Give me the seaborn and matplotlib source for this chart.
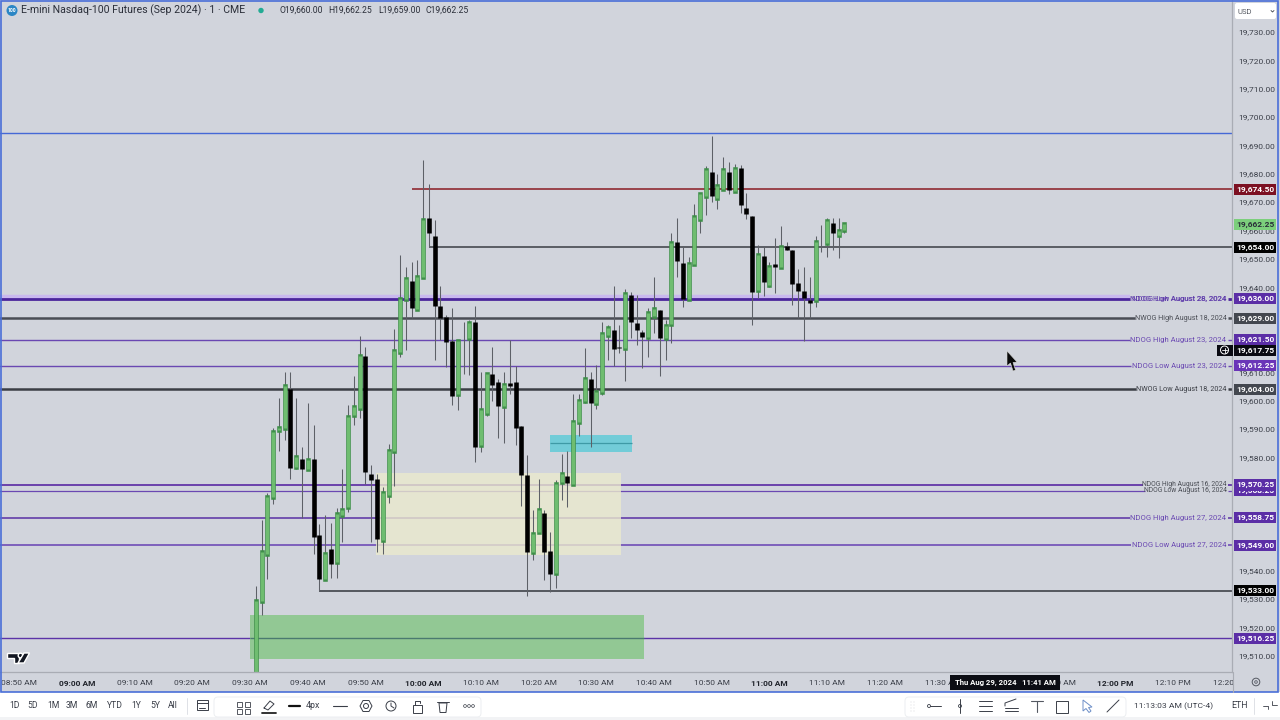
# E-mini Nasdaq 1 minute chart, candles + session levels
import numpy as np
import pandas as pd
import seaborn as sns
import matplotlib.pyplot as plt
from matplotlib.patches import Rectangle, Circle, Polygon, FancyBboxPatch

# candles, minutes after 09:00
minutes = list(range(31, 134))
opens = [19500, 19529.25, 19546, 19566, 19589.5, 19590.5, 19604.25, 19576.5, 19579.25, 19576,
         19579.5, 19552.5, 19537.25, 19547.5, 19543.25, 19559.75, 19562.5, 19594.75, 19597.25, 19615.75,
         19574.25, 19572.25, 19551, 19566.75, 19582.25, 19617, 19635.75, 19642.25, 19632.25, 19643.75,
         19664.5, 19658, 19633.5, 19629.5, 19621, 19602.25, 19620.5, 19622.25, 19627.75, 19584.25,
         19595.75, 19609.5, 19606.5, 19598.25, 19606.25, 19606.5, 19591, 19573.75, 19546.75, 19553.5,
         19560.5, 19547, 19539.25, 19571.25, 19573.5, 19570.75, 19592.5, 19600, 19607.5, 19599.25,
         19603, 19623.25, 19625, 19618.75, 19618.5, 19637.25, 19627.5, 19624.25, 19622.5, 19630,
         19632, 19622, 19627, 19655.75, 19648.5, 19635.75, 19648.25, 19664, 19672.25, 19680.5,
         19671.5, 19674.75, 19680.5, 19674, 19682, 19668, 19665, 19639, 19651, 19640.75,
         19648.25, 19647, 19654.5, 19653, 19641.5, 19638.5, 19635.5, 19635.5, 19655.75, 19655.5,
         19662.5, 19658.5, 19660]
highs = [19534.5, 19558, 19567.5, 19590.5, 19600.75, 19610, 19610, 19600.75, 19583.5, 19599,
         19591.5, 19556.5, 19559.5, 19556.75, 19562, 19575.75, 19598.5, 19608.5, 19622.75, 19618.75,
         19577.25, 19574, 19569.5, 19584.75, 19625.25, 19651.25, 19647, 19648.75, 19649.75, 19684.75,
         19676.5, 19663.75, 19640.25, 19630.25, 19632.5, 19621.5, 19627.75, 19628.25, 19633.25, 19610.25,
         19609.25, 19619, 19607.75, 19610, 19621.5, 19612.25, 19591, 19580.75, 19561.5, 19572.25,
         19561.5, 19553.75, 19572, 19581.25, 19582.25, 19602.5, 19602.5, 19618.5, 19610.25, 19612.5,
         19627.75, 19626.5, 19640.5, 19626.5, 19639.25, 19638.25, 19637.25, 19625, 19632.5, 19643.75,
         19632, 19628.5, 19659, 19664.5, 19654.25, 19650.75, 19669.25, 19672.75, 19682.75, 19693.25,
         19680, 19686, 19684, 19683.5, 19683.25, 19673.25, 19665, 19655, 19654, 19649,
         19657.25, 19661.5, 19656, 19653, 19646.5, 19647, 19643.75, 19658, 19662, 19664.25,
         19664.25, 19664.25, 19662.25]
lows = [19498, 19524.5, 19537.25, 19563.5, 19582.25, 19586, 19572.5, 19576, 19558.5, 19575.5,
        19546, 19533, 19536.75, 19537.5, 19537.5, 19550, 19560.75, 19591.5, 19593.75, 19570.5,
        19550.25, 19546.5, 19545.75, 19563.75, 19570, 19615.5, 19617.75, 19629, 19632.25, 19643.5,
        19654, 19614.25, 19621.5, 19612, 19598.5, 19596.75, 19609.5, 19609, 19578.5, 19582,
        19594.5, 19600, 19586.75, 19585, 19602.5, 19584.25, 19562.75, 19531, 19543.75, 19553.25,
        19536.75, 19532.5, 19534, 19565, 19562.5, 19570.5, 19587.5, 19599, 19583.75, 19597,
        19602, 19614.25, 19612.25, 19616.75, 19607, 19622, 19619.75, 19611.5, 19615.5, 19623.75,
        19608.75, 19614.25, 19620.25, 19643.75, 19633, 19635.75, 19647.75, 19659, 19665.5, 19670,
        19667.5, 19674.5, 19673, 19673.75, 19666, 19664, 19626.5, 19636.25, 19637, 19640,
        19638, 19647, 19653, 19633.75, 19629, 19621, 19629, 19633, 19652.25, 19650.75,
        19653, 19650.25, 19659]
closes = [19529.5, 19546.5, 19566, 19589, 19590.5, 19605, 19576.25, 19580, 19576, 19579,
          19551.75, 19537, 19545.75, 19542.5, 19560, 19561.5, 19594.25, 19597.75, 19615.75, 19574.75,
          19572, 19551.25, 19567.25, 19582.25, 19617.5, 19636, 19643, 19632.75, 19643.5, 19663.75,
          19659.25, 19633.5, 19629, 19620.5, 19601.5, 19621, 19620.75, 19627.25, 19583.75, 19596.75,
          19609.25, 19605.5, 19598, 19605.5, 19605, 19590.25, 19573.75, 19546.75, 19553, 19561.5,
          19546.75, 19538.75, 19570.75, 19574, 19571, 19592.5, 19599.75, 19607.75, 19599, 19603,
          19623.5, 19625.5, 19618.25, 19618.5, 19637.5, 19627.75, 19625, 19622.5, 19631, 19632.25,
          19622.25, 19626.25, 19655.5, 19649.25, 19636, 19648, 19664.75, 19672.75, 19681.25, 19672.25,
          19675.5, 19681.25, 19674.25, 19681.5, 19669, 19665.75, 19638.25, 19651.25, 19641.75, 19647.25,
          19647, 19654, 19653.25, 19641.25, 19638.75, 19636.25, 19634.5, 19656, 19656, 19663.25,
          19659, 19659.75, 19662.25]

# horizontal levels
level_prices = [19694.5, 19636, 19629, 19621.5, 19612.25, 19604, 19570.25, 19568.25, 19558.75, 19549, 19516.25]
level_ends = [None, 182.5, 183.4, 182.5, 182.6, 183.5, 184.8, 185.1, 182.5, 182.6, None]
level_colors = ['#4568d6', '#4b259c', '#4a4d55', '#6a48b2', '#6a48b2', '#3b3e45',
                '#4f1a9e', '#6a48b2', '#5a30a5', '#7d60bc', '#5c34a8']
level_widths = [1.0, 2.0, 1.8, 1.0, 1.0, 1.8, 1.1, 0.9, 1.1, 1.4, 1.0]
level_labels = [None, 'NDOG High August 28, 2024', 'NWOG High August 18, 2024', 'NDOG High August 23, 2024',
                'NDOG Low August 23, 2024', 'NWOG Low August 18, 2024', 'NDOG High August 16, 2024',
                'NDOG Low August 16, 2024', 'NDOG High August 27, 2024', 'NDOG Low August 27, 2024', None]
label_colors = [None, '#5f3cab', '#4a4d55', '#6a48b2', '#6a48b2', '#3b3e45', '#4a4d55', '#4a4d55',
                '#6a48b2', '#6a48b2', None]
label_sizes = [0, 5.5, 5.2, 5.5, 5.5, 5.2, 4.85, 4.85, 5.5, 5.5, 0]

# anchored lines, they start at a candle and run to the right edge
anchor_prices = [19674.5, 19654, 19533]
anchor_starts = [58, 61, 42]
anchor_colors = ['#8a1c24', '#3a3d44', '#33363c']

# zones
zone_starts = [51.9, 81.9, 29.9]
zone_ends = [94.2, 96.2, 98.2]
zone_tops = [19574.5, 19587.9, 19524.4]
zone_bottoms = [19545.6, 19581.9, 19508.9]
zone_colors = ['#ebeacd', '#5acbd7', '#83c582']
zone_mids = [None, 19584.9, 19516.25]
zone_mid_colors = [None, '#3e9aa6', '#4a7a70']

# price boxes on the axis
box_prices = [19674.5, 19662.25, 19654, 19636, 19629, 19621.5, 19617.75, 19612.25, 19604,
              19568.25, 19570.25, 19558.75, 19549, 19533, 19516.25]
box_colors = ['#7c1022', '#7ccf7c', '#000000', '#5b2ea6', '#43474f', '#5b2ea6', '#0a0a12', '#6a35b8', '#43474f',
              '#5b2ea6', '#5b2ea6', '#5b2ea6', '#5b2ea6', '#000000', '#5b2ea6']
box_text = ['white', '#2a2e39', 'white', 'white', 'white', 'white', 'white', 'white', 'white',
            'white', 'white', 'white', 'white', 'white', 'white']

# axis ticks
price_ticks = list(range(19510, 19740, 10))
time_ticks = list(range(-10, 210, 10))
time_labels = ['08:50 AM', '09:00 AM', '09:10 AM', '09:20 AM', '09:30 AM', '09:40 AM', '09:50 AM', '10:00 AM',
               '10:10 AM', '10:20 AM', '10:30 AM', '10:40 AM', '10:50 AM', '11:00 AM', '11:10 AM', '11:20 AM',
               '11:30 AM', '11:40 AM', '11:50 AM', '12:00 PM', '12:10 PM', '12:20 PM']
bold_times = ['09:00 AM', '10:00 AM', '11:00 AM', '12:00 PM']

BG = '#d1d4dc'
TXT = '#3a3e48'

sns.set_theme(style='white')
plt.rcParams['font.family'] = ['Roboto', 'DejaVu Sans']

df = pd.DataFrame({'minute': minutes, 'open': opens, 'high': highs, 'low': lows, 'close': closes})
df['up'] = df['close'] >= df['open']
wicks = df.melt(id_vars=['minute', 'up'], value_vars=['low', 'high'], value_name='price')
bodies = df.melt(id_vars=['minute', 'up'], value_vars=['open', 'close'], value_name='price')

fig = plt.figure(figsize=(12.8, 7.2), dpi=100, facecolor=BG)
ax = fig.add_axes([0, 48 / 720, 1232 / 1280, 672 / 720], facecolor=BG)

# levels first, zones lie over them and candles over the zones
x_right = 200.17
for price, end, col, lw, text, tcol, tsize in zip(level_prices, level_ends, level_colors, level_widths,
                                                  level_labels, label_colors, label_sizes):
    if end is None:
        ax.hlines(price, -14, x_right, color=col, linewidth=lw, zorder=1)
    else:
        if lw == 2.0:
            ax.hlines(price + 0.5, -14, end, color='#c9b8ee', linewidth=3.2, zorder=0.9)
        ax.hlines(price, -14, end, color=col, linewidth=lw, zorder=1)
        ax.hlines(price, 199.5, x_right, color=col, linewidth=lw, zorder=1)
        ax.text(199.2, price, text, color=tcol, fontsize=tsize, ha='right', va='center', zorder=3)
# two labels were printed over each other on this level
ax.text(199.2, 19636, 'NDOG Low August 28, 2024', color='#5f3cab', fontsize=5.5, ha='right', va='center', zorder=3)

for start, end, top, bottom, col, mid, mcol in zip(zone_starts, zone_ends, zone_tops, zone_bottoms,
                                                   zone_colors, zone_mids, zone_mid_colors):
    ax.add_patch(Rectangle((start, bottom), end - start, top - bottom, facecolor=col, edgecolor='none',
                           alpha=0.8, zorder=1.2))
    if mid is not None:
        ax.hlines(mid, start, end, color=mcol, linewidth=0.9, zorder=1.3)

for price, start, col in zip(anchor_prices, anchor_starts, anchor_colors):
    ax.hlines(price, start, x_right, color=col, linewidth=1.1, zorder=1.4)

sns.lineplot(data=wicks, x='minute', y='price', units='minute', estimator=None, color='#5d6067',
             linewidth=0.75, solid_capstyle='butt', legend=False, ax=ax, zorder=2)
up_bodies = bodies[bodies['up']]
down_bodies = bodies[~bodies['up']]
sns.lineplot(data=up_bodies, x='minute', y='price', units='minute', estimator=None, color='#3f8f4a',
             linewidth=3.3, solid_capstyle='projecting', legend=False, ax=ax, zorder=2.1)
sns.lineplot(data=up_bodies, x='minute', y='price', units='minute', estimator=None, color='#6fbd70',
             linewidth=2.3, solid_capstyle='butt', legend=False, ax=ax, zorder=2.2)
sns.lineplot(data=down_bodies, x='minute', y='price', units='minute', estimator=None, color='#000000',
             linewidth=3.3, solid_capstyle='butt', legend=False, ax=ax, zorder=2.2)

ax.set_xlim(-13.34, x_right)
ax.set_ylim(19504.3, 19741.26)
ax.set_xlabel('')
ax.set_ylabel('')
ax.set_xticks(time_ticks)
ax.set_xticklabels(time_labels, fontsize=6, color=TXT)
for tick in ax.get_xticklabels():
    if tick.get_text() in bold_times:
        tick.set_fontweight('bold')
        tick.set_color('#1f222a')
ax.yaxis.tick_right()
ax.set_yticks(price_ticks)
ax.set_yticklabels([f'{p:,.2f}' for p in price_ticks], fontsize=6, color=TXT)
ax.tick_params(axis='x', length=0, pad=5.5)
ax.tick_params(axis='y', length=0, pad=4.2)
for side in ['top', 'left']:
    ax.spines[side].set_visible(False)
for side in ['bottom', 'right']:
    ax.spines[side].set_color('#a9acb4')
    ax.spines[side].set_linewidth(0.9)

# price boxes, x in axes fraction and y in price, later boxes cover earlier text
trans = ax.get_yaxis_transform()
for i, (price, col, tcol) in enumerate(zip(box_prices, box_colors, box_text)):
    ax.add_patch(Rectangle((1.0016, price - 1.95), 0.0341, 3.9, transform=trans, facecolor=col,
                           edgecolor='none', clip_on=False, zorder=5 + i * 0.1))
    ax.text(1.0187, price, f'{price:,.2f}', transform=trans, color=tcol, fontsize=6, fontweight='bold',
            ha='center', va='center', clip_on=False, zorder=5.05 + i * 0.1)

# overlay in pixels for the window around the chart
ov = fig.add_axes([0, 0, 1, 1], zorder=10)
ov.set_xlim(0, 1280)
ov.set_ylim(720, 0)
ov.axis('off')
ov.patch.set_visible(False)


def seg(xs, ys, col='#3a3e48', lw=0.7):
    ov.plot(xs, ys, color=col, linewidth=lw, solid_capstyle='round')


# bottom bars
ov.add_patch(Rectangle((1232.5, 672.5), 45, 19.5, facecolor=BG, edgecolor='none'))
ov.add_patch(Rectangle((0, 692), 1280, 28, facecolor='#ffffff', edgecolor='none'))
ov.add_patch(Rectangle((0, 717), 1280, 3, facecolor='#f2f3f5', edgecolor='none'))
for x0, x1 in [(214, 481), (905, 1126)]:
    ov.add_patch(FancyBboxPatch((x0, 697), x1 - x0, 20, boxstyle='round,pad=0,rounding_size=4',
                                facecolor='#ffffff', edgecolor='#eceef1', linewidth=0.7))
# screen recording border
ov.add_patch(Rectangle((0.5, 0.8), 1277.5, 691.2, facecolor='none', edgecolor='#4a6fd8', linewidth=1.2))
ov.plot([1232.5, 1232.5], [672, 692], color='#a9acb4', linewidth=0.8)

# header
ov.add_patch(Circle((12, 10.5), 5.5, facecolor='#2b86c5', edgecolor='none'))
ov.text(12, 10.5, '100', color='white', fontsize=3.6, fontweight='bold', ha='center', va='center')
ov.text(21, 10.5, 'E-mini Nasdaq-100 Futures (Sep 2024) · 1 · CME', color='#2a2e39', fontsize=7.55, va='center')
ov.add_patch(Circle((261, 10.5), 2.7, facecolor='#22ab94', edgecolor='none'))
for x, text in zip([279, 328, 378, 425], ['O19,660.00', 'H19,662.25', 'L19,659.00', 'C19,662.25']):
    ov.text(x, 10.5, text, color='#2a2e39', fontsize=6.2, va='center')

# USD box
ov.add_patch(FancyBboxPatch((1235, 3), 41, 16, boxstyle='round,pad=0,rounding_size=2', facecolor='white',
                            edgecolor='none'))
ov.text(1237, 11.5, 'USD', color='#555962', fontsize=5.5, va='center')
seg([1271, 1272.5, 1274], [10.5, 12, 10.5], lw=0.6)

# crosshair
ov.add_patch(Rectangle((1217, 344.5), 15.5, 11, facecolor='#0a0a12', edgecolor='none'))
ov.add_patch(Circle((1224.5, 350), 4, facecolor='none', edgecolor='white', linewidth=0.7))
seg([1222, 1227], [350, 350], 'white', 0.6)
seg([1224.5, 1224.5], [347.5, 352.5], 'white', 0.6)
ov.add_patch(Rectangle((950, 674.5), 110, 15, facecolor='#0c0d14', edgecolor='none'))
ov.text(1005, 682, 'Thu Aug 29, 2024   11:41 AM', color='white', fontsize=5.6, fontweight='bold', ha='center', va='center')

# mouse pointer
ov.add_patch(Polygon([(1007, 351), (1007, 366), (1010.5, 363), (1013, 371), (1015.5, 370), (1013, 362.5), (1017, 362)],
                     closed=True, facecolor='#0a0a0a', edgecolor='#d8d8d8', linewidth=0.4))

# TV logo
ov.add_patch(Polygon([(7, 653), (19, 653), (19, 663), (14, 663), (14, 658), (7, 658)], closed=True, facecolor='#131722'))
ov.add_patch(Circle((20.5, 655.5), 2.3, facecolor='#131722'))
ov.add_patch(Polygon([(24, 653), (29.5, 653), (24, 663), (18, 663)], closed=True, facecolor='#131722'))

# range buttons
for x, text in zip([15, 33, 53, 72, 92, 115, 136, 155, 173], ['1D', '5D', '1M', '3M', '6M', 'YTD', '1Y', '5Y', 'All']):
    ov.text(x, 705.5, text, color=TXT, fontsize=6.2, ha='center', va='center')
seg([187, 187], [698, 714], '#dfe1e6')
# calendar icon
ov.add_patch(Rectangle((196.5, 700), 11, 10, facecolor='none', edgecolor=TXT, linewidth=0.7))
seg([196.5, 207.5], [703, 703])
seg([199, 205], [708, 708])

# left floating panel icons
for ix in [237, 245]:
    for iy in [702, 709]:
        ov.add_patch(Rectangle((ix, iy), 4.5, 4.5, facecolor='none', edgecolor=TXT, linewidth=0.6))
seg([264, 270, 274, 268, 264], [708, 701, 704, 710, 708])
seg([262, 276], [712.5, 712.5], '#222222', 1.3)
seg([289, 300], [706, 706], '#111111', 1.6)
ov.text(313, 706, '4px', color=TXT, fontsize=6.4, ha='center', va='center')
seg([333, 347], [706, 706], TXT, 0.8)
ov.add_patch(Polygon([(360, 706), (363, 700.5), (369, 700.5), (372, 706), (369, 711.5), (363, 711.5)], closed=True,
                     facecolor='none', edgecolor=TXT, linewidth=0.7))
ov.add_patch(Circle((366, 706), 2.5, facecolor='none', edgecolor=TXT, linewidth=0.7))
ov.add_patch(Circle((391, 706), 5, facecolor='none', edgecolor=TXT, linewidth=0.7))
seg([391, 391, 394], [703, 706, 708])
ov.add_patch(Rectangle((412.5, 705), 9, 7.5, facecolor='none', edgecolor=TXT, linewidth=0.7))
seg([414.5, 414.5, 419.5, 419.5], [705, 701, 701, 703])
ov.add_patch(Polygon([(439, 703), (447, 703), (446, 712.5), (440, 712.5)], closed=True, facecolor='none', edgecolor=TXT, linewidth=0.7))
seg([437, 449], [702, 702])
for ix in [465, 469, 473]:
    ov.add_patch(Circle((ix, 706), 1.4, facecolor='none', edgecolor=TXT, linewidth=0.5))

# right floating panel icons
for ix in [911, 914]:
    for iy in [702, 705, 708, 711]:
        ov.add_patch(Circle((ix, iy), 0.4, facecolor='#b8bbc2', edgecolor='none'))
seg([930, 941], [706, 706])
ov.add_patch(Circle((929, 706), 1.5, facecolor='white', edgecolor=TXT, linewidth=0.6))
seg([960, 960], [699, 713])
ov.add_patch(Circle((960, 706), 1.5, facecolor='white', edgecolor=TXT, linewidth=0.6))
for iy in [701, 706, 711]:
    seg([979, 992], [iy, iy])
seg([1005, 1018], [711, 711])
seg([1005, 1018], [708, 708])
seg([1005, 1005, 1016], [706, 703, 699])
seg([1031, 1043], [700.5, 700.5], '#555962', 0.8)
seg([1037, 1037], [700.5, 712], '#555962', 0.8)
ov.add_patch(Rectangle((1056, 700.5), 12, 12, facecolor='none', edgecolor=TXT, linewidth=0.7))
ov.add_patch(Polygon([(1083, 700), (1083, 711), (1086, 708.5), (1089, 712.5), (1091, 711), (1088.5, 707.5), (1092, 707)],
                     closed=True, facecolor='none', edgecolor='#6d8fc8', linewidth=0.7))
seg([1107, 1119], [712, 700])

ov.text(1173.5, 706, '11:13:03 AM (UTC-4)', color=TXT, fontsize=6.1, ha='center', va='center')
ov.text(1239, 706, 'ETH', color=TXT, fontsize=6.3, ha='center', va='center')
seg([1254, 1254], [698, 714], '#dfe1e6')
seg([1263, 1268, 1268], [706, 706, 709], TXT, 0.6)
seg([1272, 1272, 1277], [701, 705, 705], TXT, 0.6)
# settings gear on the time axis
ov.add_patch(Circle((1256, 682), 3.8, facecolor='none', edgecolor='#555962', linewidth=0.7))
ov.add_patch(Circle((1256, 682), 1.3, facecolor='none', edgecolor='#555962', linewidth=0.6))

fig.savefig('out.png', dpi=100, facecolor=BG)
plt.close(fig)
